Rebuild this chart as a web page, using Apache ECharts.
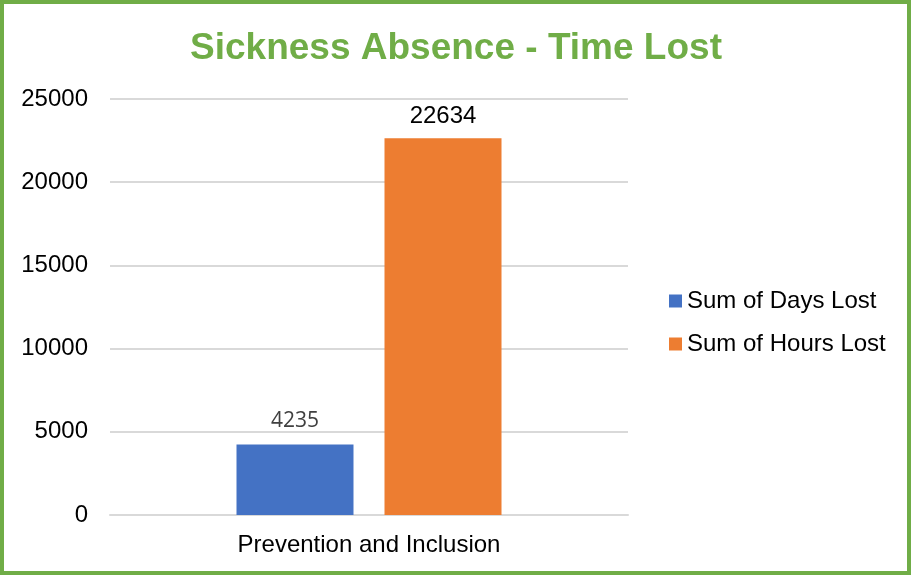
<!DOCTYPE html>
<html>
<head>
<meta charset="utf-8">
<script src="https://cdn.jsdelivr.net/npm/echarts@6/dist/echarts.min.js"></script>
<style>
  html, body { margin: 0; padding: 0; background: #fff; }
  #chart { width: 912px; height: 576px; }
</style>
</head>
<body>
<div id="chart"></div>
<script>
const categories = ['Prevention and Inclusion'];
const seriesNames = ['Sum of Days Lost', 'Sum of Hours Lost'];
const daysLost = [4235];
const hoursLost = [22634];
const yTicks = { min: 0, max: 25000, interval: 5000 };

const chart = echarts.init(document.getElementById('chart'));
const font = 'Liberation Sans, Arial, sans-serif';

chart.setOption({
  backgroundColor: '#fff',
  animation: false,
  title: {
    text: 'Sickness Absence - Time Lost',
    left: 'center',
    top: 25,
    textStyle: { color: '#70AD47', fontSize: 37, fontWeight: 'bold', fontFamily: font }
  },
  legend: {
    orient: 'vertical',
    left: 664,
    top: 284,
    itemWidth: 13,
    itemHeight: 13,
    itemGap: 19,
    icon: 'rect',
    textStyle: { fontSize: 24, color: '#000', fontFamily: font },
    data: seriesNames
  },
  grid: { left: 110, right: 284, top: 99, bottom: 61 },
  xAxis: {
    type: 'category',
    data: categories,
    axisLine: { lineStyle: { color: '#d9d9d9', width: 2 } },
    axisTick: { show: false },
    axisLabel: { fontSize: 24, color: '#000', fontFamily: font, margin: 18 }
  },
  yAxis: {
    type: 'value',
    min: yTicks.min,
    max: yTicks.max,
    interval: yTicks.interval,
    axisLabel: { fontSize: 24, color: '#000', fontFamily: font, margin: 22, formatter: v => String(v) },
    splitLine: { lineStyle: { color: '#d9d9d9', width: 2 } },
    axisLine: { show: false },
    axisTick: { show: false }
  },
  series: [
    {
      name: seriesNames[0],
      type: 'bar',
      data: daysLost,
      barWidth: 117,
      barGap: '26.5%',
      itemStyle: { color: '#4472C4' },
      label: {
        show: true, position: 'top', distance: 13,
        fontSize: 21, color: '#404040', fontFamily: 'Open Sans, sans-serif'
      }
    },
    {
      name: seriesNames[1],
      type: 'bar',
      data: hoursLost,
      barWidth: 117,
      itemStyle: { color: '#ED7D31' },
      label: {
        show: true, position: 'top', distance: 10,
        fontSize: 24, color: '#000', fontFamily: font
      }
    }
  ],
  graphic: [{
    type: 'rect',
    shape: { x: 2, y: 2, width: 907, height: 571 },
    style: { fill: 'none', stroke: '#70AD47', lineWidth: 4 },
    z: 100
  }]
});
</script>
</body>
</html>
